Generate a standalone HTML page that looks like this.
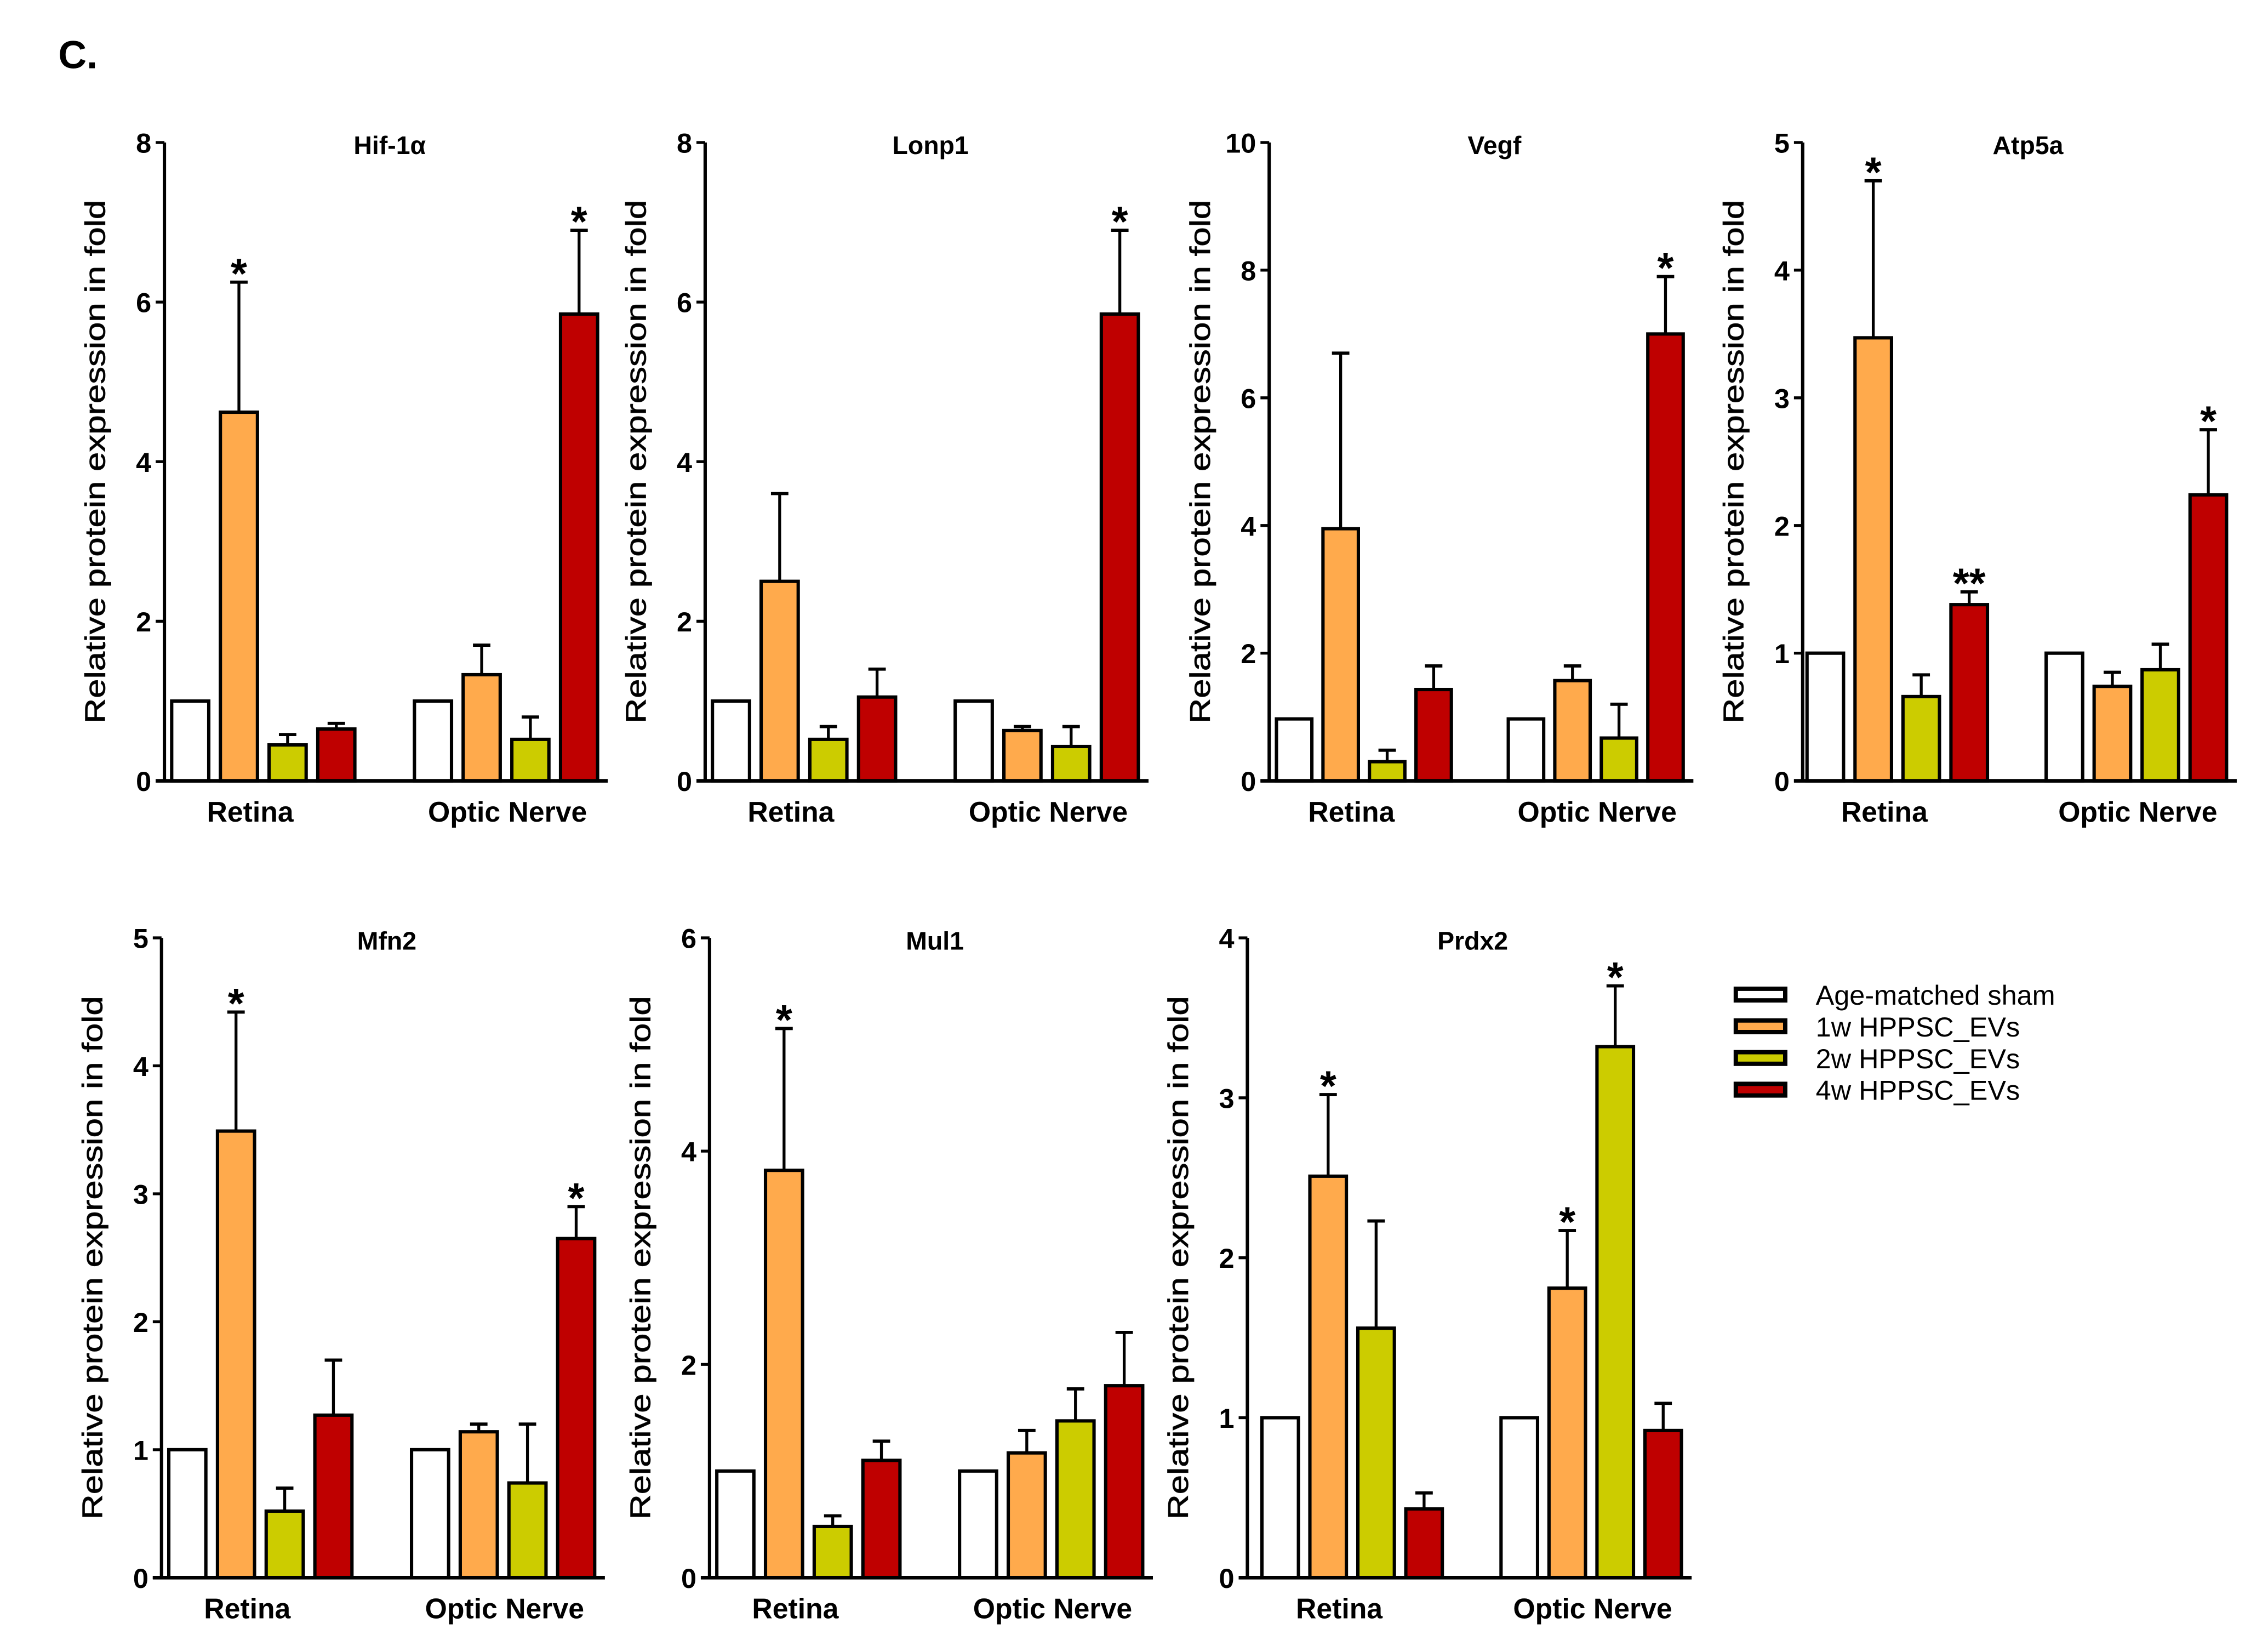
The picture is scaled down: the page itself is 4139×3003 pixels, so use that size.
<!DOCTYPE html>
<html><head><meta charset="utf-8">
<style>
html,body{margin:0;padding:0;background:#fff;}
svg{display:block;}
text{font-family:"Liberation Sans",Arial,sans-serif;fill:#000;}
</style></head>
<body>
<svg id="fig" xmlns="http://www.w3.org/2000/svg" width="4139" height="3003" viewBox="0 0 1560 1132">
<rect x="0" y="0" width="1560" height="1132" fill="#fff"/>
<text x="40" y="47" font-size="27" font-weight="bold">C.</text>
<g id="legend"></g>
</svg>
<script>
// ---- data ----
const groups = ["Retina", "Optic Nerve"];
const seriesNames = ["Age-matched sham", "1w HPPSC_EVs", "2w HPPSC_EVs", "4w HPPSC_EVs"];
const seriesColors = ["#ffffff", "#ffaa4c", "#cccc00", "#bf0000"];
const panelTitles = ["Hif-1α", "Lonp1", "Vegf", "Atp5a", "Mfn2", "Mul1", "Prdx2"];
const panelMax = [8, 8, 10, 5, 5, 6, 4];
const panelStep = [2, 2, 2, 1, 1, 2, 1];
// means: [Retina x4, Optic Nerve x4]
const meansHif = [1, 4.62, 0.45, 0.65, 1, 1.33, 0.52, 5.85];
const meansLonp = [1, 2.5, 0.52, 1.05, 1, 0.63, 0.43, 5.85];
const meansVegf = [0.97, 3.95, 0.3, 1.43, 0.97, 1.57, 0.67, 7.0];
const meansAtp = [1, 3.47, 0.66, 1.38, 1, 0.74, 0.87, 2.24];
const meansMfn = [1, 3.49, 0.52, 1.27, 1, 1.14, 0.74, 2.65];
const meansMul = [1, 3.82, 0.48, 1.1, 1, 1.17, 1.47, 1.8];
const meansPrdx = [1, 2.51, 1.56, 0.43, 1, 1.81, 3.32, 0.92];
// error bar tops (null = no error bar)
const errHif = [null, 6.25, 0.58, 0.72, null, 1.7, 0.8, 6.9];
const errLonp = [null, 3.6, 0.68, 1.4, null, 0.68, 0.68, 6.9];
const errVegf = [null, 6.7, 0.48, 1.8, null, 1.8, 1.2, 7.9];
const errAtp = [null, 4.7, 0.83, 1.48, null, 0.85, 1.07, 2.75];
const errMfn = [null, 4.42, 0.7, 1.7, null, 1.2, 1.2, 2.9];
const errMul = [null, 5.15, 0.58, 1.28, null, 1.38, 1.77, 2.3];
const errPrdx = [null, 3.02, 2.23, 0.53, null, 2.17, 3.7, 1.09];
// significance markers
const sigHif = ["", "*", "", "", "", "", "", "*"];
const sigLonp = ["", "", "", "", "", "", "", "*"];
const sigVegf = ["", "", "", "", "", "", "", "*"];
const sigAtp = ["", "*", "", "**", "", "", "", "*"];
const sigMfn = ["", "*", "", "", "", "", "", "*"];
const sigMul = ["", "*", "", "", "", "", "", ""];
const sigPrdx = ["", "*", "", "", "", "*", "*", ""];

const allMeans = [meansHif, meansLonp, meansVegf, meansAtp, meansMfn, meansMul, meansPrdx];
const allErr = [errHif, errLonp, errVegf, errAtp, errMfn, errMul, errPrdx];
const allSig = [sigHif, sigLonp, sigVegf, sigAtp, sigMfn, sigMul, sigPrdx];

// ---- layout ----
const axisXs = [113, 485, 873, 1240, 111, 488, 858];
const barScale = [1, 1, 0.955, 0.985, 1, 1, 0.985];
const barStart = [5, 5, 5, 3, 5, 5, 10];
const rowTop = [98, 645];
const rowBottom = [537, 1085];
const NS = "http://www.w3.org/2000/svg";
const svg = document.getElementById("fig");
function mk(tag, attrs, parent) {
  const e = document.createElementNS(NS, tag);
  for (const k in attrs) e.setAttribute(k, attrs[k]);
  (parent || svg).appendChild(e);
  return e;
}

for (let p = 0; p < 7; p++) {
  const row = p < 4 ? 0 : 1;
  const ax = axisXs[p], top = rowTop[row], bot = rowBottom[row];
  const max = panelMax[p];
  const sc = barScale[p];
  const yScale = v => bot - (v / max) * (bot - top);
  const xBar = (g, s) => ax + barStart[p] + (g * 167 + s * 33.5) * sc;
  const axLen = barStart[p] + (167 + 3 * 33.5 + 25.5) * sc + 7;
  const slug = panelTitles[p].toLowerCase().replace(/[^a-z0-9]/g, "");
  const g = mk("g", {});
  
  

  const means = allMeans[p], errs = allErr[p], sigs = allSig[p];
  for (let gi = 0; gi < 2; gi++) {
    for (let s = 0; s < 4; s++) {
      const i = gi * 4 + s;
      const x = xBar(gi, s), w = 25.5 * sc;
      const cx = x + w / 2;
      if (errs[i] !== null) {
        const ey = yScale(errs[i]);
        const el = mk("line", {x1: cx, x2: cx, y1: yScale(means[i]), y2: ey, stroke: "#000", "stroke-width": 2}, g);
        
        
        const cap = mk("line", {x1: cx - 6, x2: cx + 6, y1: ey, y2: ey, stroke: "#000", "stroke-width": 2.2}, g);
        
        
      }
      const yv = yScale(means[i]);
      const r = mk("rect", {x: x, y: yv, width: w, height: bot - yv, fill: seriesColors[s], stroke: "#000", "stroke-width": 2.3}, g);
      
      
      if (sigs[i]) {
        const topV = errs[i] !== null ? errs[i] : means[i];
        const t = mk("text", {x: cx, y: yScale(topV) + 4, "font-size": 29, "font-weight": "bold", "text-anchor": "middle"}, g);
        t.textContent = sigs[i];
        
        
      }
    }
  }

  const yAx = mk("line", {x1: ax, x2: ax, y1: top, y2: bot + 1, stroke: "#000", "stroke-width": 2.3}, g);
  
  
  const xAx = mk("line", {x1: ax - 6, x2: ax + axLen, y1: bot, y2: bot, stroke: "#000", "stroke-width": 2.5}, g);
  
  
  for (let v = 0; v <= max + 1e-9; v += panelStep[p]) {
    const yy = yScale(v);
    const tk = mk("line", {x1: ax - 6, x2: ax, y1: yy, y2: yy, stroke: "#000", "stroke-width": 2}, g);
    
    
    const tl = mk("text", {x: ax - 9, y: yy + 7, "font-size": 19, "font-weight": "bold", "text-anchor": "end"}, g);
    tl.textContent = String(v);
    
    
  }
  const xl = [ax + barStart[p] + 54 * sc, ax + barStart[p] + 231 * sc];
  for (let gi = 0; gi < 2; gi++) {
    const t = mk("text", {x: xl[gi], y: bot + 28, "font-size": 19.5, "font-weight": "bold", "text-anchor": "middle"}, g);
    t.textContent = groups[gi];
    
    
  }
  const title = mk("text", {x: ax + 155, y: top + 8, "font-size": 17.5, "font-weight": "bold", "text-anchor": "middle"}, g);
  title.textContent = panelTitles[p];
  
  
  const ytx = ax - 46, yty = (top + bot) / 2;
  const yt = mk("text", {x: ytx, y: yty, "font-size": 19.5, "text-anchor": "middle", "dominant-baseline": "middle", transform: "rotate(-90 " + ytx + " " + yty + ")", textLength: 360, lengthAdjust: "spacingAndGlyphs", fill: "#111", stroke: "#111", "stroke-width": 0.3}, g);
  yt.textContent = "Relative protein expression in fold";
  
  
}

const lg = document.getElementById("legend");
for (let s = 0; s < 4; s++) {
  const y = 680 + s * 21.8;
  const r = mk("rect", {x: 1194, y: y, width: 34, height: 8, fill: seriesColors[s], stroke: "#000", "stroke-width": 3}, lg);
  
  
  const t = mk("text", {x: 1249, y: y + 11, "font-size": 19, fill: "#111"}, lg);
  t.textContent = seriesNames[s];
  
  
}
</script>
</body></html>
